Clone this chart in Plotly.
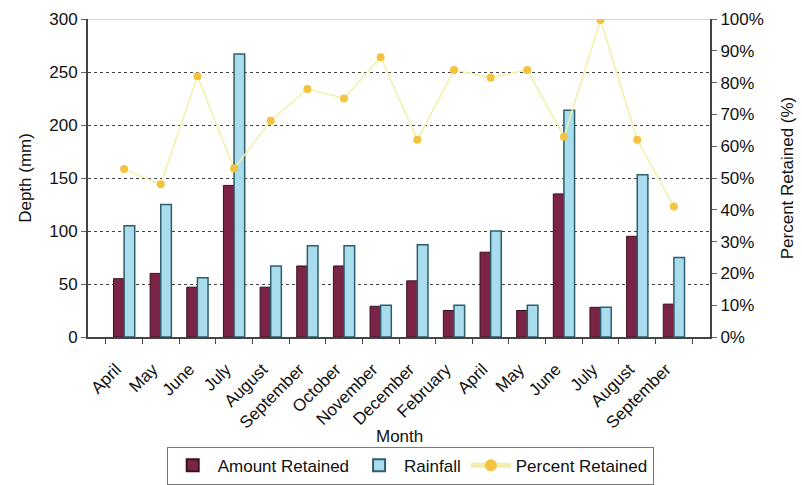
import plotly.graph_objects as go

ZW = "\u200b"
months = ["April", "May", "June", "July", "August", "September", "October", "November",
          "December", "February", "April" + ZW, "May" + ZW, "June" + ZW, "July" + ZW,
          "August" + ZW, "September" + ZW]
amount_retained = [55, 60, 47, 143, 47, 67, 67, 29, 53, 25, 80, 25, 135, 28, 95, 31]
rainfall = [105, 125, 56, 267, 67, 86, 86, 30, 87, 30, 100, 30, 214, 28, 153, 75]
percent_retained = [52.8, 48, 82, 53, 68, 78, 75, 88, 62, 84, 81.5, 84, 63, 99.7, 62, 41]

FONT = "Liberation Sans, Arial, sans-serif"

fig = go.Figure()
fig.add_trace(go.Bar(
    x=months, y=amount_retained, name="Amount Retained",
    marker=dict(color="#7B2448", line=dict(color="#3A1020", width=1)),
))
fig.add_trace(go.Bar(
    x=months, y=rainfall, name="Rainfall",
    marker=dict(color="#A9DDEE", line=dict(color="#2E5E6C", width=1.5)),
))
fig.add_trace(go.Scatter(
    x=months, y=percent_retained, name="Percent Retained", yaxis="y2",
    mode="lines+markers",
    line=dict(color="#F2F0A8", width=1.5),
    marker=dict(color="#F3C23E", size=8),
))

fig.update_layout(
    width=802, height=485,
    margin=dict(l=88, r=92, t=19, b=148),
    paper_bgcolor="white", plot_bgcolor="white",
    font=dict(family=FONT, size=16, color="#111111"),
    barmode="group", bargap=0.42, bargroupgap=0.0,
    showlegend=True,
    legend=dict(orientation="h", x=0.518, xanchor="center",
                yref="container", y=0.04, yanchor="middle",
                bordercolor="#777777", borderwidth=1, font=dict(size=17),
                itemsizing="constant", itemwidth=40, tracegroupgap=0),
    xaxis=dict(
        tickangle=-45, ticks="outside", tickson="boundaries", ticklen=5,
        tickcolor="#444444", showline=True, linecolor="#444444", linewidth=1.5,
        showgrid=False, tickfont=dict(size=17), automargin=False,
        ticklabelshift=-8, ticklabelstandoff=14,
    ),
    yaxis=dict(
        range=[0, 300], dtick=50, ticks="outside", ticklen=5, tickcolor="#666666",
        showline=True, linecolor="#444444", linewidth=2,
        showgrid=True, gridcolor="#444444", griddash="dot", gridwidth=1,
        zeroline=False, tickfont=dict(size=17), automargin=False,
        title=dict(text="Depth (mm)", font=dict(size=17), standoff=13),
    ),
    yaxis2=dict(
        overlaying="y", side="right", range=[0, 100], dtick=10, ticksuffix="%",
        ticks="outside", ticklen=5, tickcolor="#666666",
        showline=True, linecolor="#444444", linewidth=2,
        showgrid=False, zeroline=False, tickfont=dict(size=17), automargin=False,
        title=dict(text="Percent Retained (%)", font=dict(size=17), standoff=18),
    ),
    annotations=[dict(text="Month", x=0.5, y=-0.314, xref="paper", yref="paper",
                      yanchor="middle", showarrow=False, font=dict(size=17))],
    shapes=[dict(type="line", xref="paper", yref="y", x0=0, x1=1, y0=300, y1=300,
                 line=dict(color="#CCCCCC", width=1.5))],
)

fig.write_html("out.html")
